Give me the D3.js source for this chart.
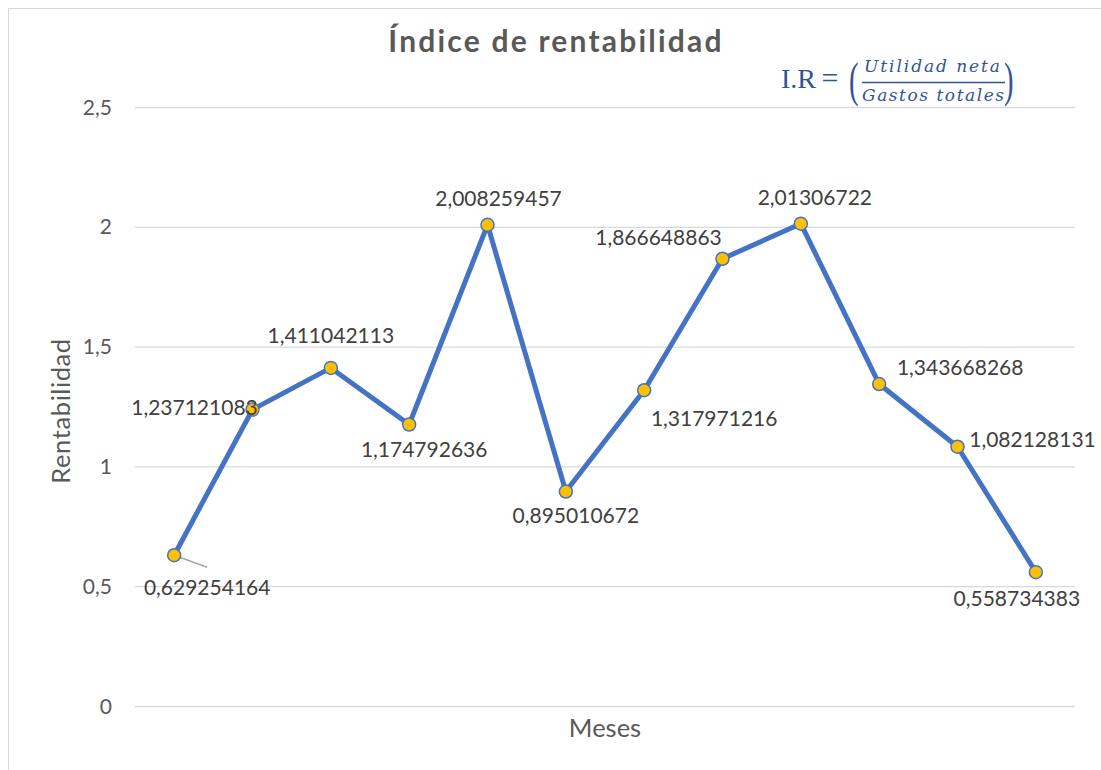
<!DOCTYPE html>
<html>
<head>
<meta charset="utf-8">
<script src="https://cdn.jsdelivr.net/npm/d3@7/dist/d3.min.js"></script>
<style>
  html, body { margin: 0; padding: 0; background: #fff; }
  svg { display: block; }
</style>
</head>
<body>
<svg id="chart" width="1101" height="770"></svg>
<script>
// Monthly profitability index
const months = ["Enero", "Febrero", "Marzo", "Abril", "Mayo", "Junio",
                "Julio", "Agosto", "Septiembre", "Octubre", "Noviembre", "Diciembre"];
const rentabilidad = [0.629254164, 1.237121083, 1.411042113, 1.174792636, 2.008259457, 0.895010672,
                      1.317971216, 1.866648863, 2.01306722, 1.343668268, 1.082128131, 0.558734383];
const valueLabels = ["0,629254164", "1,237121083", "1,411042113", "1,174792636", "2,008259457", "0,895010672",
                     "1,317971216", "1,866648863", "2,01306722", "1,343668268", "1,082128131", "0,558734383"];
const yTicks = [0, 0.5, 1, 1.5, 2, 2.5];
const yTickLabels = ["0", "0,5", "1", "1,5", "2", "2,5"];
// label centre offset from each point: [dx, dy]
const labelOffsets = [
  [33, 32], [-58, -2], [0, -32], [15, 25], [11, -26], [10, 24],
  [70, 28], [-64, -21], [14, -26], [81, -17], [75, -7], [-19, 26]
];

(function () {
  const svg = d3.select("#chart");
  const font = "Lato, 'Open Sans', sans-serif";

  // outer chart frame
  svg.append("rect")
    .attr("x", 8.5).attr("y", 8.5).attr("width", 1110).attr("height", 780)
    .attr("fill", "none").attr("stroke", "#d9d9d9").attr("stroke-width", 1);

  const plotLeft = 135, plotRight = 1075, plotTop = 107, plotBottom = 706;

  const x = d3.scaleBand().domain(months).range([plotLeft, plotRight]);
  const y = d3.scaleLinear().domain([0, 2.5]).range([plotBottom, plotTop]);

  // gridlines
  svg.append("g")
    .selectAll("line")
    .data(yTicks)
    .join("line")
    .attr("x1", plotLeft).attr("x2", plotRight)
    .attr("y1", d => y(d) + 0.5).attr("y2", d => y(d) + 0.5)
    .attr("stroke", "#d9d9d9").attr("stroke-width", 1.3);

  // y axis tick labels
  svg.append("g")
    .selectAll("text")
    .data(yTicks)
    .join("text")
    .attr("x", 112).attr("y", d => y(d))
    .attr("dy", "0.36em")
    .attr("text-anchor", "end")
    .attr("font-family", font).attr("font-size", 21).attr("fill", "#595959")
    .text((d, i) => yTickLabels[i]);

  // title
  svg.append("text")
    .attr("x", 556).attr("y", 52)
    .attr("text-anchor", "middle")
    .attr("font-family", font).attr("font-weight", "bold").attr("font-size", 30)
    .attr("letter-spacing", 2.2)
    .attr("fill", "#595959")
    .text("Índice de rentabilidad");

  // axis titles
  svg.append("text")
    .attr("x", 605).attr("y", 737)
    .attr("text-anchor", "middle")
    .attr("font-family", font).attr("font-size", 25.5).attr("fill", "#595959")
    .text("Meses");

  svg.append("text")
    .attr("transform", "translate(70,411) rotate(-90)")
    .attr("text-anchor", "middle")
    .attr("font-family", font).attr("font-size", 25.5).attr("fill", "#595959")
    .attr("letter-spacing", 0.6)
    .text("Rentabilidad");

  // formula  I.R = (Utilidad neta / Gastos totales)
  const blue = "#2f5597";
  const fml = svg.append("g").attr("fill", blue);
  const serif = "'Liberation Serif', 'DejaVu Serif', serif";
  const italic = "'DejaVu Serif', 'Liberation Serif', serif";
  fml.append("text").attr("x", 781).attr("y", 88)
    .attr("font-family", serif).attr("font-size", 28).text("I.R");
  fml.append("text").attr("x", 830).attr("y", 88)
    .attr("text-anchor", "middle")
    .attr("font-family", serif).attr("font-size", 30).text("=");
  fml.append("text").attr("transform", "translate(849,96) scale(0.75,1.3)")
    .attr("font-family", serif).attr("font-size", 38).text("(");
  fml.append("text").attr("transform", "translate(1004,96) scale(0.75,1.3)")
    .attr("font-family", serif).attr("font-size", 38).text(")");
  fml.append("text").attr("x", 864).attr("y", 72)
    .attr("font-family", italic).attr("font-style", "italic").attr("font-size", 17)
    .attr("textLength", 136).attr("lengthAdjust", "spacing")
    .text("Utilidad neta");
  fml.append("line").attr("x1", 862).attr("x2", 1005).attr("y1", 82.5).attr("y2", 82.5)
    .attr("stroke", blue).attr("stroke-width", 1.3);
  fml.append("text").attr("x", 862).attr("y", 101)
    .attr("font-family", italic).attr("font-style", "italic").attr("font-size", 17)
    .attr("textLength", 142).attr("lengthAdjust", "spacing")
    .text("Gastos totales");

  const cx = (d, i) => x(months[i]) + x.bandwidth() / 2;

  // leader line for the first label
  svg.append("line")
    .attr("x1", cx(null, 0)).attr("y1", y(rentabilidad[0]))
    .attr("x2", cx(null, 0) + 33).attr("y2", y(rentabilidad[0]) + 12)
    .attr("stroke", "#a6a6a6").attr("stroke-width", 1.5);

  // line series
  const line = d3.line()
    .x((d, i) => cx(d, i))
    .y(d => y(d));

  svg.append("path")
    .datum(rentabilidad)
    .attr("d", line)
    .attr("fill", "none")
    .attr("stroke", "#4472c4")
    .attr("stroke-width", 5)
    .attr("stroke-linejoin", "round")
    .attr("stroke-linecap", "round");

  // markers
  svg.append("g")
    .selectAll("circle")
    .data(rentabilidad)
    .join("circle")
    .attr("cx", cx)
    .attr("cy", d => y(d))
    .attr("r", 6.5)
    .attr("fill", "#ffc000")
    .attr("stroke", "#4472c4")
    .attr("stroke-width", 1.5);

  // data labels
  svg.append("g")
    .selectAll("text")
    .data(rentabilidad)
    .join("text")
    .attr("x", (d, i) => cx(d, i) + labelOffsets[i][0])
    .attr("y", (d, i) => y(d) + labelOffsets[i][1])
    .attr("dy", "0.36em")
    .attr("text-anchor", "middle")
    .attr("font-family", font).attr("font-size", 21).attr("fill", "#404040")
    .text((d, i) => valueLabels[i]);
})();
</script>
</body>
</html>
